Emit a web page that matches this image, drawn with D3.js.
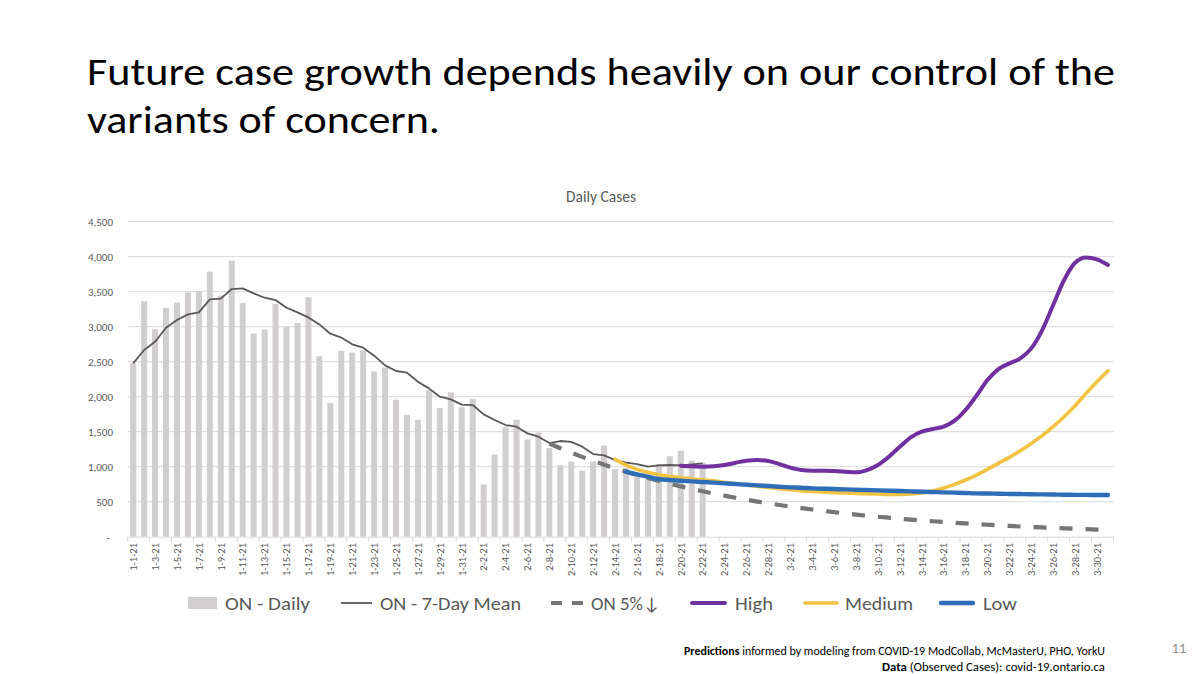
<!DOCTYPE html>
<html><head><meta charset="utf-8">
<script src="https://cdn.jsdelivr.net/npm/d3@7"></script>
<style>
html,body{margin:0;padding:0;background:#fff;}
svg{display:block;}
text{font-family:Carlito, Lato, "Open Sans", sans-serif;}
</style></head>
<body>
<svg id="c" width="1200" height="674"></svg>
<script>
const categories = ["1-1-21","1-2-21","1-3-21","1-4-21","1-5-21","1-6-21","1-7-21","1-8-21","1-9-21","1-10-21",
"1-11-21","1-12-21","1-13-21","1-14-21","1-15-21","1-16-21","1-17-21","1-18-21","1-19-21","1-20-21",
"1-21-21","1-22-21","1-23-21","1-24-21","1-25-21","1-26-21","1-27-21","1-28-21","1-29-21","1-30-21","1-31-21",
"2-1-21","2-2-21","2-3-21","2-4-21","2-5-21","2-6-21","2-7-21","2-8-21","2-9-21","2-10-21",
"2-11-21","2-12-21","2-13-21","2-14-21","2-15-21","2-16-21","2-17-21","2-18-21","2-19-21","2-20-21",
"2-21-21","2-22-21","2-23-21","2-24-21","2-25-21","2-26-21","2-27-21","2-28-21",
"3-1-21","3-2-21","3-3-21","3-4-21","3-5-21","3-6-21","3-7-21","3-8-21","3-9-21","3-10-21",
"3-11-21","3-12-21","3-13-21","3-14-21","3-15-21","3-16-21","3-17-21","3-18-21","3-19-21","3-20-21",
"3-21-21","3-22-21","3-23-21","3-24-21","3-25-21","3-26-21","3-27-21","3-28-21","3-29-21","3-30-21","3-31-21"];

const yTicks = [0,500,1000,1500,2000,2500,3000,3500,4000,4500];

// ON - Daily, from 1-1-21
const dailyStart = "1-1-21";
const dailyValues = [2476,3363,2964,3270,3346,3490,3510,3786,3443,3945,3338,2903,2961,3326,3000,3056,3422,2578,1913,2653,
2631,2662,2359,2417,1958,1740,1670,2093,1837,2063,1848,
1969,745,1172,1563,1670,1388,1489,1265,1022,1072,945,1076,1300,964,981,904,847,1038,1150,1228,1087,1058];

// ON - 7-Day Mean, from 1-1-21
const meanStart = "1-1-21";
const meanValues = [2476,2667,2786,2986,3095,3176,3205,3390,3400,3538,3548,3476,3414,3381,3271,3205,3133,3033,2900,2845,
2748,2700,2586,2448,2367,2343,2214,2119,2000,1962,1886,
1881,1748,1667,1595,1571,1476,1429,1338,1367,1355,1286,1181,1162,1095,1057,1038,1000,1019,1024,1019,1033,1048];

// ON 5% decline, from 2-8-21
const declineStart = "2-8-21";
const declineValues = [1330,1264,1200,1140,1083,1029,978,929,883,838,796,757,719,683,649,616,586,556,528,502,477,
453,430,409,388,369,350,333,316,300,285,271,257,244,232,221,210,199,189,180,171,162,154,146,139,132,126,119,113,108,102,97];

// High, from 2-20-21
const highStart = "2-20-21";
const highValues = [1015,1005,1000,1005,1024,1057,1086,1095,1081,
1038,986,952,943,943,938,929,919,952,1024,1143,1286,1419,1500,1538,1571,1657,1810,2014,2238,2395,2476,2548,2690,2952,3310,3667,3914,3990,3962,3881];

// Medium, from 2-14-21
const mediumStart = "2-14-21";
const mediumValues = [1105,1024,962,919,886,862,843,824,812,798,776,755,738,720,702,
686,671,657,648,638,629,624,619,614,610,605,605,610,624,652,695,748,810,881,962,1048,1133,1229,1333,1443,1571,1714,1871,2048,2214,2371];

// Low, from 2-15-21
const lowStart = "2-15-21";
const lowValues = [929,890,857,824,810,800,790,781,772,762,752,743,733,724,
714,705,700,690,686,681,676,671,667,662,657,652,648,643,638,633,629,624,619,617,614,611,609,606,604,602,600,598,597,596,595];

const legendLabels = ["ON - Daily","ON - 7-Day Mean","ON 5%\u2193","High","Medium","Low"];

const svg = d3.select("#c");
const gray = "#595959";

function toPoints(start, vals){
  const i0 = categories.indexOf(start);
  return vals.map((v,i)=>({c:categories[i0+i], v}));
}

// Title
svg.append("text").attr("x",87).attr("y",85).attr("font-size",39).attr("fill","#000")
  .attr("textLength",1028).attr("lengthAdjust","spacingAndGlyphs")
  .text("Future case growth depends heavily on our control of the");
svg.append("text").attr("x",87).attr("y",133).attr("font-size",39).attr("fill","#000")
  .attr("textLength",353).attr("lengthAdjust","spacingAndGlyphs")
  .text("variants of concern.");

// Chart title
svg.append("text").attr("x",601).attr("y",202).attr("text-anchor","middle")
  .attr("font-size",15.5).attr("fill",gray).text("Daily Cases");

const x = d3.scaleBand().domain(categories).range([127.7,1113.4]).padding(0);
const y = d3.scaleLinear().domain([0,4500]).range([536.7,221.7]);
const step = x.step();
const cx = c => x(c)+step/2;

// gridlines
svg.append("g").selectAll("line").data(yTicks.filter(d=>d>0)).join("line")
  .attr("x1",x.range()[0]).attr("x2",x.range()[1])
  .attr("y1",d=>y(d)).attr("y2",d=>y(d))
  .attr("stroke","#d9d9d9").attr("stroke-width",1);

// y labels
const yAxis = d3.axisLeft(y).tickValues(yTicks).tickSize(0).tickPadding(0)
  .tickFormat(d=> d===0 ? "-" : d3.format(",")(d));
const yg = svg.append("g").attr("transform","translate(113,0)").call(yAxis);
yg.select(".domain").remove();
yg.selectAll("text").attr("font-size",11).attr("fill",gray).attr("font-family","Carlito, Lato, sans-serif");
yg.selectAll(".tick").filter(d=>d===0).select("text").attr("dx",-3);

// bars
const bw = step*0.55;
svg.append("g").selectAll("rect").data(toPoints(dailyStart,dailyValues)).join("rect")
  .attr("x",d=>cx(d.c)-bw/2).attr("width",bw)
  .attr("y",d=>y(d.v)).attr("height",d=>y(0)-y(d.v))
  .attr("fill","#d0cece");

// x axis line and ticks
svg.append("line").attr("x1",x.range()[0]).attr("x2",x.range()[1])
  .attr("y1",y(0)+0.5).attr("y2",y(0)+0.5).attr("stroke","#d9d9d9").attr("stroke-width",1);
const tickCats = categories.filter((c,i)=>i%2===0);
svg.append("g").selectAll("line").data(tickCats).join("line")
  .attr("x1",d=>x(d)).attr("x2",d=>x(d)).attr("y1",y(0)).attr("y2",y(0)+5)
  .attr("stroke","#d9d9d9");
svg.append("line").attr("x1",x.range()[1]).attr("x2",x.range()[1]).attr("y1",y(0)).attr("y2",y(0)+5).attr("stroke","#d9d9d9");

// x labels
svg.append("g").selectAll("text").data(tickCats).join("text")
  .attr("transform",d=>`translate(${cx(d)+3.8},543) rotate(-90)`)
  .attr("text-anchor","end").attr("font-size",10.5).attr("fill",gray).text(d=>d);

// lines
const lineLin = d3.line().x(d=>cx(d.c)).y(d=>y(d.v));
const lineSm = d3.line().x(d=>cx(d.c)).y(d=>y(d.v)).curve(d3.curveMonotoneX);

svg.append("path").datum(toPoints(meanStart,meanValues)).attr("d",lineLin)
  .attr("fill","none").attr("stroke",gray).attr("stroke-width",1.8).attr("stroke-linejoin","round");
svg.append("path").datum(toPoints(declineStart,declineValues)).attr("d",lineSm)
  .attr("fill","none").attr("stroke","#757575").attr("stroke-width",4.2).attr("stroke-dasharray","13,13");
svg.append("path").datum(toPoints(highStart,highValues)).attr("d",lineSm)
  .attr("fill","none").attr("stroke","#7030a0").attr("stroke-width",4).attr("stroke-linecap","round").attr("stroke-linejoin","round");
svg.append("path").datum(toPoints(mediumStart,mediumValues)).attr("d",lineSm)
  .attr("fill","none").attr("stroke","#f4c243").attr("stroke-width",3.6).attr("stroke-linecap","round").attr("stroke-linejoin","round");
svg.append("path").datum(toPoints(lowStart,lowValues)).attr("d",lineSm)
  .attr("fill","none").attr("stroke","#2e6db7").attr("stroke-width",4.4).attr("stroke-linecap","round").attr("stroke-linejoin","round");

// legend
const lg = svg.append("g").attr("font-size",18).attr("fill",gray);
const ly = 603;
const legendX = [188,341,551,692,805,941];
const textX = [225,380,591,735,845,983];
const textW = [85,141,69,38,68,34];
lg.append("rect").attr("x",legendX[0]).attr("y",ly-6).attr("width",29).attr("height",12).attr("fill","#d0cece");
lg.append("line").attr("x1",legendX[1]).attr("x2",legendX[1]+31).attr("y1",ly).attr("y2",ly).attr("stroke",gray).attr("stroke-width",1.8);
lg.append("line").attr("x1",legendX[2]).attr("x2",legendX[2]+32).attr("y1",ly).attr("y2",ly).attr("stroke","#757575").attr("stroke-width",4.2).attr("stroke-dasharray","11,10");
lg.append("line").attr("x1",legendX[3]).attr("x2",legendX[3]+33).attr("y1",ly).attr("y2",ly).attr("stroke","#7030a0").attr("stroke-width",4).attr("stroke-linecap","round");
lg.append("line").attr("x1",legendX[4]).attr("x2",legendX[4]+32).attr("y1",ly).attr("y2",ly).attr("stroke","#f4c243").attr("stroke-width",3.6).attr("stroke-linecap","round");
lg.append("line").attr("x1",legendX[5]).attr("x2",legendX[5]+32).attr("y1",ly).attr("y2",ly).attr("stroke","#2e6db7").attr("stroke-width",4.4).attr("stroke-linecap","round");
legendLabels.forEach((l,i)=>{
  lg.append("text").attr("x",textX[i]).attr("y",ly+6.5)
    .attr("textLength",textW[i]).attr("lengthAdjust","spacingAndGlyphs").text(l);
});

// footnote
const f1 = svg.append("text").attr("x",1105).attr("y",655).attr("text-anchor","end").attr("font-size",12).attr("fill","#000")
  .attr("textLength",421).attr("lengthAdjust","spacingAndGlyphs");
f1.append("tspan").attr("font-weight","bold").text("Predictions");
f1.append("tspan").text(" informed by modeling from COVID-19 ModCollab, McMasterU, PHO, YorkU");
const f2 = svg.append("text").attr("x",1105).attr("y",671).attr("text-anchor","end").attr("font-size",12).attr("fill","#000")
  .attr("textLength",223).attr("lengthAdjust","spacingAndGlyphs");
f2.append("tspan").attr("font-weight","bold").text("Data");
f2.append("tspan").text(" (Observed Cases): covid-19.ontario.ca");
svg.append("text").attr("x",1186).attr("y",653).attr("text-anchor","end").attr("font-size",14).attr("fill","#8c8c8c").text("11");
</script>
</body></html>
